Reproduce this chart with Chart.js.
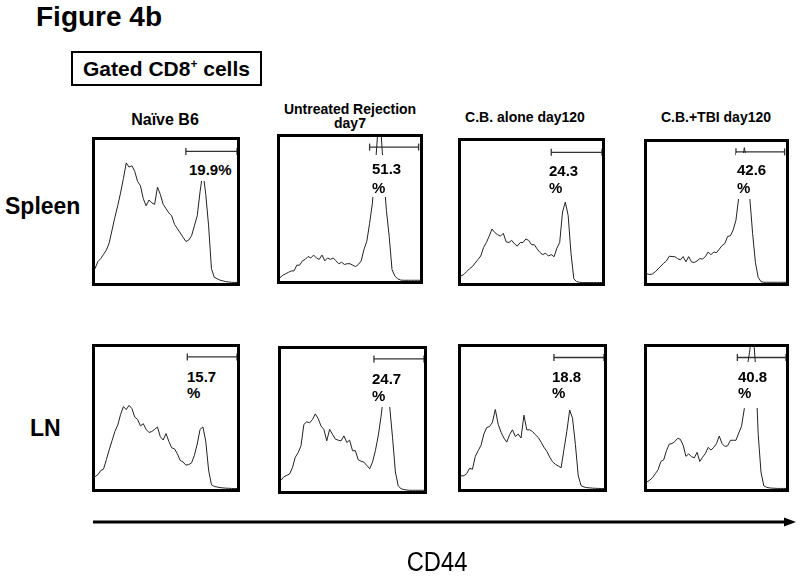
<!DOCTYPE html>
<html><head><meta charset="utf-8">
<script src="https://cdn.jsdelivr.net/npm/chart.js@4.4.1/dist/chart.umd.min.js"></script>
<style>
body{margin:0;background:#fff;width:800px;height:580px;position:relative;overflow:hidden;font-family:"Liberation Sans",Arial,sans-serif;color:#000}
.t{position:absolute;font-weight:bold;line-height:1;white-space:nowrap}
.c{text-align:center;width:240px}
.panel{position:absolute;border:3px solid #000;box-sizing:border-box;background:#fff;overflow:hidden}
.panel canvas{display:block}
.pct{position:absolute;background:#fff;font-weight:bold;font-size:15px;white-space:nowrap;padding-left:1px;padding-right:2px}
</style></head><body>

<div class="t" style="left:36px;top:3px;font-size:28px">Figure 4b</div>
<div style="position:absolute;left:71px;top:51px;width:191px;height:35px;border:2px solid #000;box-sizing:border-box;display:flex;align-items:center;justify-content:center">
  <span style="font-weight:bold;font-size:21px;line-height:1;white-space:nowrap">Gated CD8<sup style="font-size:12px;vertical-align:8px;line-height:0">+</sup> cells</span>
</div>

<div class="t c" style="left:45px;top:112px;font-size:16px">Naïve B6</div>
<div class="t c" style="left:230px;top:102px;font-size:14px;line-height:14px">Untreated Rejection<br>day7</div>
<div class="t c" style="left:405px;top:110px;font-size:14px">C.B. alone day120</div>
<div class="t c" style="left:596px;top:110px;font-size:14px">C.B.+TBI day120</div>

<div class="t" style="left:5px;top:195px;font-size:23px">Spleen</div>
<div class="t" style="left:30px;top:417px;font-size:23px">LN</div>

<div class="panel" style="left:92px;top:137px;width:148px;height:149px"><canvas id="p0" width="142" height="143"></canvas></div>
<div class="panel" style="left:277px;top:134px;width:146px;height:150px"><canvas id="p1" width="140" height="144"></canvas></div>
<div class="panel" style="left:458px;top:138px;width:147px;height:148px"><canvas id="p2" width="141" height="142"></canvas></div>
<div class="panel" style="left:644px;top:139px;width:145px;height:147px"><canvas id="p3" width="139" height="141"></canvas></div>
<div class="panel" style="left:92px;top:344px;width:148px;height:148px"><canvas id="p4" width="142" height="142"></canvas></div>
<div class="panel" style="left:278px;top:346px;width:149px;height:148px"><canvas id="p5" width="143" height="142"></canvas></div>
<div class="panel" style="left:458px;top:344px;width:149px;height:148px"><canvas id="p6" width="143" height="142"></canvas></div>
<div class="panel" style="left:644px;top:344px;width:145px;height:148px"><canvas id="p7" width="139" height="142"></canvas></div>

<div class="pct" style="left:188px;top:159px;line-height:17px;padding-top:2px;padding-bottom:3px">19.9%</div>
<div class="pct" style="left:371px;top:155px;line-height:19px;padding-top:4px;padding-bottom:0">51.3<br>%</div>
<div class="pct" style="left:548px;top:160px;line-height:17px;padding-top:2px;padding-bottom:0">24.3<br>%</div>
<div class="pct" style="left:736px;top:153px;line-height:18px;padding-top:8px;padding-bottom:2px">42.6<br>%</div>
<div class="pct" style="left:186px;top:367px;line-height:16px;padding-top:2px;padding-bottom:2px">15.7<br>%</div>
<div class="pct" style="left:371px;top:368px;line-height:17px;padding-top:2px;padding-bottom:3px">24.7<br>%</div>
<div class="pct" style="left:551px;top:367px;line-height:16px;padding-top:2px;padding-bottom:2px">18.8<br>%</div>
<div class="pct" style="left:737px;top:362px;line-height:16px;padding-top:7px;padding-bottom:7px">40.8<br>%</div>

<svg style="position:absolute;left:0;top:0" width="800" height="580">
  <line x1="93" y1="522" x2="787" y2="522" stroke="#000" stroke-width="3"/>
  <polygon points="784,517.5 796,522 784,526.5" fill="#000"/>
</svg>
<div style="position:absolute;left:337px;top:549px;width:200px;text-align:center;font-size:27px;line-height:1;transform:scaleX(0.88);transform-origin:center">CD44</div>

<script>
// CD44 channel positions (percent of axis range)
const channels = [0,2,4,6,8,10,12,14,16,18,20,22,24,26,28,30,32,34,36,38,40,42,44,46,48,50,52,54,56,58,60,62,64,66,68,70,72,74,76,78,80,82,84,86,88,90,92,94,96,98,100];

// Relative cell counts (% of panel height)
const spleenNaive = [10,15,17,20,23,28,37,46,54,63,73,84,81,82,78,71,68,59,54,58,56,55,67,62,55,52,49,47,41,38,35,32,29,30,33,40,47,64,78,62,40,10,4,3,2,1.5,1,0.7,0.5,0.4,0.4];
const spleenRejection = [2.3,4,5,6,7,7,11,11,14,15,17,16,18,16,15,18,14,16,15,16,14,12,13,11.5,12,12,11,10,11.5,14,22,27.5,40,54,78,106,106,75,49,31,8,3.5,1.6,0.7,0.5,0.5,0.5,0.5,0.5,0.5,0.5];
const spleenCB = [5,6,8,10,11.5,14,16.5,19,25,28.5,33,38,35.5,34,33,35,29,28.5,30,27.5,26,28.5,28.5,31,30,27,27,24,21.5,20,21,19,20,18.5,24.5,28.5,50,57,47.5,21,3,1,0.5,0.3,0.3,0.3,0.3,0.3,0.3,0.3,0.3];
const spleenCBTBI = [6.5,6,6.5,8,10,12,14,15.7,19,18.7,18.7,17.3,16.4,18.7,15,18.7,15,14.5,15.7,17.3,17,18.7,22,20,22,21.5,24,26.5,28,33,33.5,37.6,44.6,60.7,82,96,86,59.6,35,14.5,4,1,0.5,0.5,0.5,0.5,0.5,0.5,0.5,0.5,0.5];
const lnNaive = [8.7,10,13,14,20.7,27.6,34,40.5,45,52.4,58,55.9,58.9,56.6,50.6,49,44.4,46,42,39.8,40.5,42,43.7,36.8,34.5,39,33.6,29,28.3,24.8,20.2,19,16.8,17.2,18.4,23.7,31.7,42,43.7,33.6,13.3,3,1.8,1.4,1,0.8,0.6,0.5,0.4,0.3,0.3];
const lnRejection = [7.6,10,11,12,16.4,23.8,27,31.9,46.9,48.7,48,50.3,54.3,51,45.7,43.4,35.3,43.4,40,36.5,35.8,35.3,38.8,34.2,35.8,28.4,28.4,22,21,20.3,18,15.7,20.3,28.4,38.8,52.7,70,76,59.6,37.6,13.4,3.5,1.6,1,0.7,0.5,0.5,0.5,0.5,0.5,0.5];
const lnCB = [9.3,9.3,10.9,14.6,13.9,23,27,30.8,38.7,43.3,44,47,56,45.6,40,35.9,33,38.2,41.7,37,38.7,35.9,52,41.7,41.7,40.5,38.2,36.3,33,29.4,26.6,22.5,19.2,17.4,16.2,15,27.8,40.5,55.6,49.8,31.3,9.3,2.3,1.4,1,0.8,0.6,0.5,0.4,0.3,0.3];
const lnCBTBI = [5,6.2,8,10.8,13.6,19.4,20.5,27,31.6,32,33.4,35.7,35,30.9,23,24.7,22.8,21.9,25.8,19.4,22.4,25,29.3,27.4,29.3,32,37.3,32,30,30.4,34.3,34.3,34.3,39.4,44.2,56.5,85,98,115,88,38.5,12,2.3,1.2,0.8,0.6,0.5,0.4,0.4,0.4,0.4];

// Gate markers (CD44-high gate)
const gateStart = [64,64,64,64,65,65,65,65];
const gateEnd   = [100,99,100,99,100,100,100,100];
const gateLevel = [92,93,92,93,93,93,92.6,92.6];

const series = [spleenNaive, spleenRejection, spleenCB, spleenCBTBI, lnNaive, lnRejection, lnCB, lnCBTBI];

series.forEach((values, gi) => {
  new Chart(document.getElementById('p' + gi), {
    type: 'line',
    data: { datasets: [
      { data: channels.map((c, i) => ({ x: c, y: values[i] })), borderColor: '#222', borderWidth: 1, pointRadius: 0, tension: 0, fill: false },
      { data: [{ x: gateStart[gi], y: gateLevel[gi] }, { x: gateEnd[gi], y: gateLevel[gi] }],
        borderColor: '#333', borderWidth: 1.3, pointStyle: 'line', rotation: 90, pointRadius: 3.5,
        pointBorderWidth: 1.3, pointBorderColor: '#333', clip: false }
    ]},
    options: {
      responsive: false, animation: false, events: [],
      layout: { padding: 0, autoPadding: false },
      plugins: { legend: { display: false }, tooltip: { enabled: false } },
      scales: {
        x: { type: 'linear', min: 0, max: 100, display: false },
        y: { min: 0, max: 100, display: false }
      }
    }
  });
});
</script>
</body></html>
